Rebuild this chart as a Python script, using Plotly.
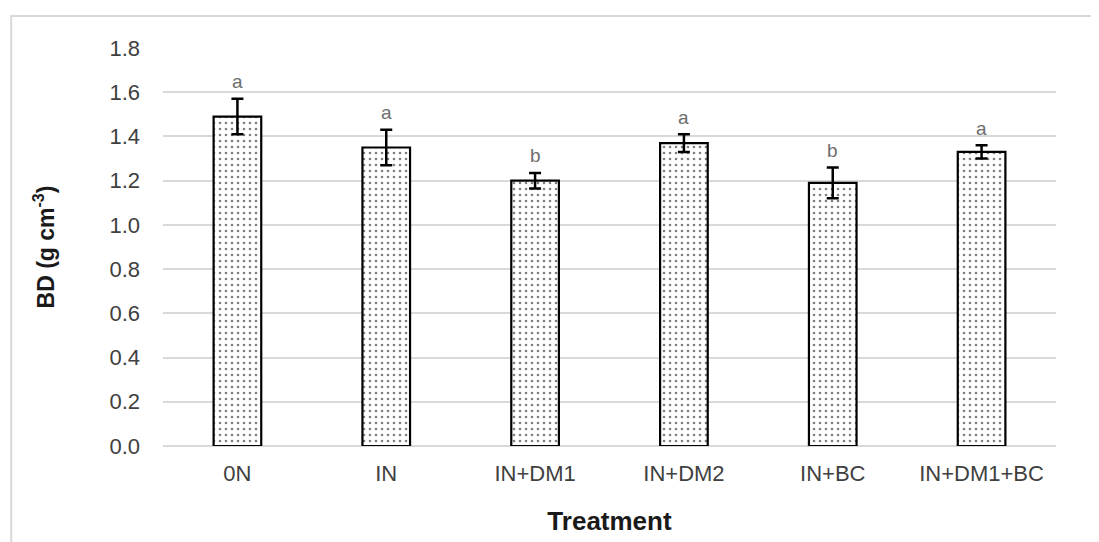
import plotly.graph_objects as go

categories = ["0N", "IN", "IN+DM1", "IN+DM2", "IN+BC", "IN+DM1+BC"]
bd_values = [1.49, 1.35, 1.20, 1.37, 1.19, 1.33]
bd_errors = [0.08, 0.08, 0.035, 0.04, 0.07, 0.03]
letters = ["a", "a", "b", "a", "b", "a"]
y_ticks = [0.0, 0.2, 0.4, 0.6, 0.8, 1.0, 1.2, 1.4, 1.6, 1.8]

fig = go.Figure()
fig.add_trace(go.Bar(
    x=categories, y=bd_values,
    width=0.32,
    marker=dict(
        color="white",
        line=dict(color="black", width=2.2),
        pattern=dict(shape=".", fgcolor="black", bgcolor="white", size=6, solidity=0.15),
    ),
    error_y=dict(type="data", array=bd_errors, visible=True, color="black", thickness=2.5, width=6),
    showlegend=False,
))

for c, v, e, l in zip(categories, bd_values, bd_errors, letters):
    fig.add_annotation(x=c, y=v + e, text=l, showarrow=False, yshift=17,
                       font=dict(family="Liberation Sans, Arial", size=19, color="#6e6e6e"))

fig.add_shape(type="rect", xref="paper", yref="paper", x0=-0.170, x1=1.047, y0=-0.4, y1=1.0804,
              line=dict(color="#d9d9d9", width=2), fillcolor="rgba(0,0,0,0)", layer="below")

fig.update_layout(
    width=1091, height=534,
    margin=dict(l=155, r=43, t=40, b=96),
    paper_bgcolor="white", plot_bgcolor="white",
    font=dict(family="Liberation Sans, Arial", size=22, color="#404040"),
    xaxis=dict(
        title=dict(text="<b>Treatment</b>", font=dict(size=26, color="#1a1a1a"), standoff=26),
        showgrid=False, showline=False, ticks="", ticklabelstandoff=12,
        tickfont=dict(size=22, color="#404040"),
    ),
    yaxis=dict(
        title=dict(text="<b>BD (g cm<sup>-3</sup>)</b>", font=dict(size=23, color="#1a1a1a"), standoff=48),
        range=[0, 1.8], tickvals=y_ticks, ticktext=[f"{t:.1f}" for t in y_ticks],
        showgrid=True, gridcolor="#d9d9d9", gridwidth=2,
        zeroline=True, zerolinecolor="#d9d9d9", zerolinewidth=2,
        showline=False, ticks="", ticklabelstandoff=22,
        tickfont=dict(size=22, color="#404040"),
    ),
    bargap=0.68,
)

fig.write_html("out.html")
